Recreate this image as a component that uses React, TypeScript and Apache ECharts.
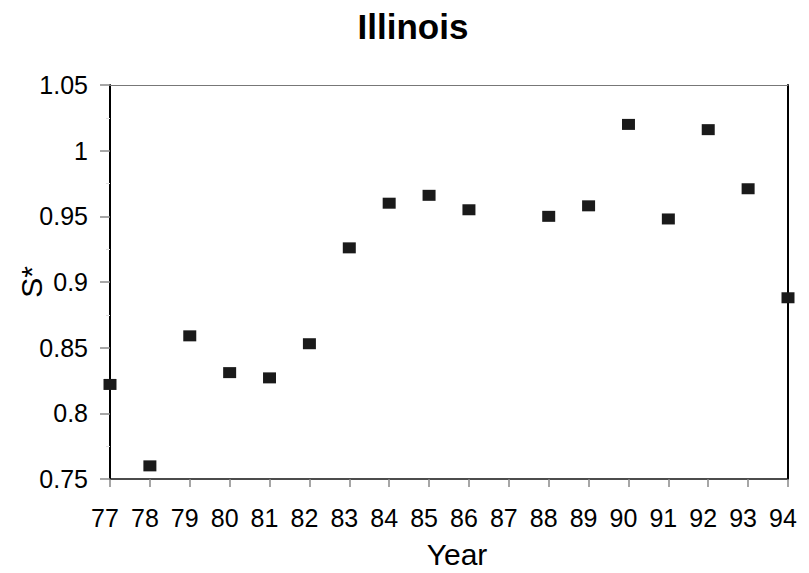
import React, { useEffect, useRef } from "react";
import * as echarts from "echarts";

const years = ["77", "78", "79", "80", "81", "82", "83", "84", "85", "86", "87", "88", "89", "90", "91", "92", "93", "94"];
const sStar: (number | null)[] = [0.822, 0.760, 0.859, 0.831, 0.827, 0.853, 0.926, 0.960, 0.966, 0.955, null, 0.950, 0.958, 1.020, 0.948, 1.016, 0.971, 0.888];
const titleText = "Illinois";
const xName = "Year";
const yName = "S*";

const FONT = "'Liberation Sans', Arial, sans-serif";

export default function App() {
  const ref = useRef<HTMLDivElement>(null);
  useEffect(() => {
    if (!ref.current) return;
    const chart = echarts.init(ref.current, undefined, { renderer: "svg" });
    chart.setOption({
      animation: false,
      backgroundColor: "#ffffff",
      title: {
        text: titleText,
        left: 408,
        top: 4,
        textAlign: "center",
        textStyle: { fontFamily: FONT, fontSize: 35, fontWeight: "bold", color: "#000" },
      },
      grid: { left: 110, right: 21, top: 85, bottom: 94, containLabel: false, outerBoundsMode: "none" },
      xAxis: [
        {
          type: "category",
          data: years,
          boundaryGap: false,
          name: xName,
          nameLocation: "middle",
          nameGap: 60,
          nameMoveOverlap: false,
          nameTextStyle: { fontFamily: FONT, fontSize: 30, color: "#000", padding: [0, 0, 0, 16] },
          axisLine: { lineStyle: { color: "#111", width: 1.5 } },
          axisTick: { show: true, length: 8, alignWithLabel: true, lineStyle: { color: "#888", width: 1.5 } },
          axisLabel: { fontFamily: FONT, fontSize: 25, color: "#000", margin: 26, interval: 0, padding: [0, 10, 0, 0] },
          splitLine: { show: false },
        },
        {
          type: "category",
          data: years,
          boundaryGap: false,
          position: "top",
          axisLine: { lineStyle: { color: "#777", width: 1 } },
          axisTick: { show: false },
          axisLabel: { show: false },
          splitLine: { show: false },
        },
      ],
      yAxis: [
        {
          type: "value",
          min: 0.75,
          max: 1.05,
          interval: 0.05,
          name: yName,
          nameLocation: "middle",
          nameRotate: 90,
          nameGap: 64,
          nameMoveOverlap: false,
          nameTextStyle: { fontFamily: FONT, fontSize: 30, color: "#000" },
          axisLine: { show: true, lineStyle: { color: "#000", width: 2 } },
          axisTick: { show: true, length: 10, lineStyle: { color: "#888", width: 1.5 } },
          minorTick: { show: true, splitNumber: 2, length: 4, lineStyle: { color: "#ddd", width: 1 } },
          axisLabel: { fontFamily: FONT, fontSize: 25, color: "#000", margin: 22 },
          splitLine: { show: false },
        },
        {
          type: "value",
          min: 0.75,
          max: 1.05,
          interval: 0.05,
          position: "right",
          axisLine: { show: true, lineStyle: { color: "#000", width: 2 } },
          axisTick: { show: false },
          axisLabel: { show: false },
          splitLine: { show: false },
        },
      ],
      series: [
        {
          type: "scatter",
          data: sStar.map((v) => (v === null ? "-" : v)),
          symbol: "rect",
          symbolSize: [13, 11],
          clip: false,
          itemStyle: { color: "#1a1a1a", opacity: 1 },
        },
      ],
    });
    return () => chart.dispose();
  }, []);
  return <div ref={ref} style={{ position: "fixed", left: 0, top: 0, width: 809, height: 573 }} />;
}
